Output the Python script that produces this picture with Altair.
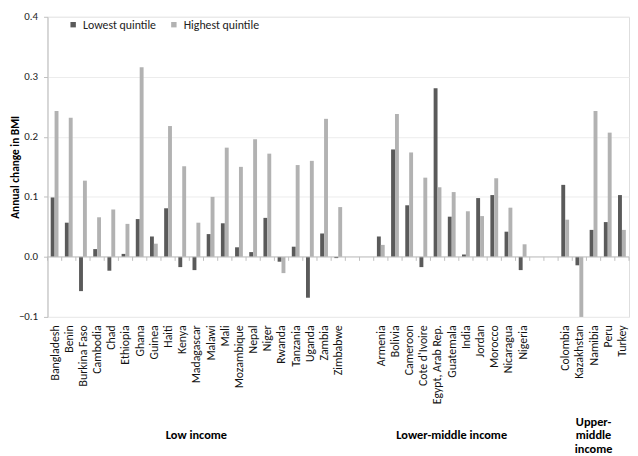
import altair as alt
import pandas as pd

# ---- data ----
low_income = ["Bangladesh", "Benin", "Burkina Faso", "Cambodia", "Chad", "Ethiopia", "Ghana",
              "Guinea", "Haiti", "Kenya", "Madagascar", "Malawi", "Mali", "Mozambique", "Nepal",
              "Niger", "Rwanda", "Tanzania", "Uganda", "Zambia", "Zimbabwe"]
lower_middle = ["Armenia", "Bolivia", "Cameroon", "Cote d'Ivoire", "Egypt, Arab Rep.", "Guatemala",
                "India", "Jordan", "Morocco", "Nicaragua", "Nigeria"]
upper_middle = ["Colombia", "Kazakhstan", "Namibia", "Peru", "Turkey"]

lowest_low = [0.099, 0.057, -0.057, 0.013, -0.023, 0.005, 0.063, 0.034, 0.081, -0.017, -0.022,
              0.038, 0.056, 0.016, 0.008, 0.065, -0.008, 0.017, -0.068, 0.039, -0.002]
highest_low = [0.243, 0.232, 0.127, 0.066, 0.079, 0.055, 0.316, 0.022, 0.218, 0.151, 0.057,
               0.100, 0.182, 0.150, 0.196, 0.172, -0.027, 0.153, 0.160, 0.230, 0.083]
lowest_lm = [0.034, 0.179, 0.086, -0.017, 0.281, 0.067, 0.004, 0.098, 0.103, 0.042, -0.022]
highest_lm = [0.020, 0.238, 0.174, 0.132, 0.116, 0.108, 0.076, 0.068, 0.131, 0.082, 0.021]
lowest_um = [0.120, -0.014, 0.045, 0.058, 0.103]
highest_um = [0.062, -0.100, 0.243, 0.207, 0.045]

series = ["Lowest quintile", "Highest quintile"]
gap_a = [" ", "  "]
gap_b = ["   ", "    "]
slots = low_income + gap_a + lower_middle + gap_b + upper_middle

single_group_labels = ["Low  income", "Lower-middle income"]
single_group_anchor = ["Madagascar", "Guatemala"]
multi_group_labels = ["Upper-\nmiddle\nincome"]
multi_group_anchor = ["Namibia"]

y_ticks = [-0.1, 0.0, 0.1, 0.2, 0.3, 0.4]

countries = low_income + lower_middle + upper_middle
lowest = lowest_low + lowest_lm + lowest_um
highest = highest_low + highest_lm + highest_um

rows = []
for c, lo, hi in zip(countries, lowest, highest):
    rows.append({"country": c, "series": series[0], "value": lo})
    rows.append({"country": c, "series": series[1], "value": hi})
df = pd.DataFrame(rows)

# ---- style ----
W, H = 589, 304
FONT = "Carlito, Lato"
DARK = "#5a5a5a"
LIGHT = "#b2b2b2"
AXIS_GRAY = "#bfbfbf"
GROUP_Y = H + 120
LINE_H = 14

xscale = alt.Scale(domain=slots, paddingInner=0, paddingOuter=0)
yscale = alt.Scale(domain=[-0.1, 0.4], nice=False, zero=False)

bars = alt.Chart(df).mark_bar().encode(
    x=alt.X("country:N", scale=xscale, sort=slots,
            axis=alt.Axis(title=None, labelAngle=-90, ticks=False, domain=False,
                          labelPadding=8, labelFontSize=12, labelColor="#111",
                          grid=False, labelOverlap=False, labelFont=FONT)),
    xOffset=alt.XOffset("series:N",
                        scale=alt.Scale(domain=series, paddingOuter=0.82, paddingInner=0)),
    y=alt.Y("value:Q", scale=yscale,
            axis=alt.Axis(values=y_ticks, format=".1f", title="Annual change in BMI",
                          titleFontWeight="bold", titleFontSize=11.5, titleFont=FONT,
                          titleX=-32, titleY=H / 2, titleBaseline="middle", titleAngle=-90,
                          titleAlign="center", titleColor="#000",
                          labelFontSize=11, labelColor="#222", labelFont=FONT, labelPadding=6,
                          domainColor=AXIS_GRAY, tickColor=AXIS_GRAY, tickSize=4,
                          gridColor="#ececec", grid=True)),
    color=alt.Color("series:N", scale=alt.Scale(domain=series, range=[DARK, LIGHT]),
                    legend=alt.Legend(orient="none", legendX=20, legendY=2,
                                      direction="horizontal", title=None,
                                      symbolType="square", symbolSize=30,
                                      symbolStrokeWidth=0, labelFontSize=12,
                                      labelFont=FONT, labelColor="#222",
                                      columnPadding=11, labelOffset=4, padding=0)),
)

zero_line = alt.Chart(pd.DataFrame({"z": [0.0]})).mark_rule(color=AXIS_GRAY, strokeWidth=1).encode(
    y=alt.datum(0.0)
)

ticks = alt.Chart(pd.DataFrame({"country": slots})).mark_rule(color=AXIS_GRAY, y2Offset=4).encode(
    x=alt.X("country:N", scale=xscale, bandPosition=0),
    y=alt.datum(0.0),
    y2=alt.datum(0.0),
)

end_tick = alt.Chart(pd.DataFrame({"country": [slots[-1]]})).mark_rule(color=AXIS_GRAY, y2Offset=4).encode(
    x=alt.X("country:N", scale=xscale, bandPosition=1),
    y=alt.datum(0.0),
    y2=alt.datum(0.0),
)

text_style = dict(fontWeight="bold", fontSize=12.5, font=FONT, lineBreak="\n",
                  lineHeight=LINE_H, baseline="middle", align="center", color="#000")

groups = alt.Chart(pd.DataFrame({"country": single_group_anchor, "label": single_group_labels})).mark_text(
    **text_style
).encode(
    x=alt.X("country:N", scale=xscale),
    y=alt.value(GROUP_Y),
    text="label:N",
)

groups_multi = alt.Chart(pd.DataFrame({"country": multi_group_anchor, "label": multi_group_labels})).mark_text(
    **text_style
).encode(
    x=alt.X("country:N", scale=xscale),
    y=alt.value(GROUP_Y - LINE_H),
    text="label:N",
)

chart = alt.layer(bars, zero_line, ticks, end_tick, groups, groups_multi).properties(
    width=W, height=H,
    padding={"left": 2, "top": 0, "right": 0, "bottom": 0},
).configure_view(stroke=None).configure(font=FONT)

chart.save("out.html", embed_options={"renderer": "svg", "actions": False})
